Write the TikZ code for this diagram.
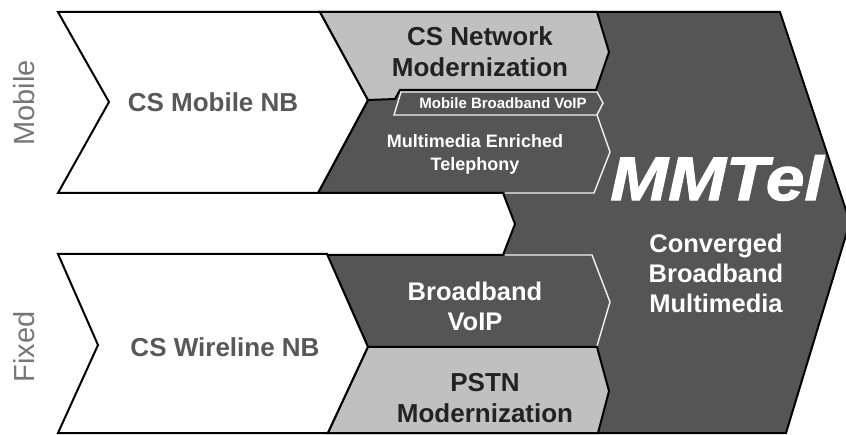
\documentclass[tikz,border=0pt]{standalone}
\usepackage{fontspec}
\setmainfont{Liberation Sans}
\newfontfamily\heavyfont[BoldItalicFeatures={FakeBold=1.6}]{Liberation Sans}
\definecolor{darkfill}{HTML}{555555}
\definecolor{lightfill}{HTML}{C0C0C0}
\definecolor{sidegray}{HTML}{767676}
\definecolor{headgray}{HTML}{585858}
\definecolor{inkgray}{HTML}{222222}
\tikzset{
  blackedge/.style={draw=black, line width=2pt, line join=miter},
  whiteedge/.style={draw=white!90!gray, line width=1.4pt, line join=miter},
  sidelabel/.style={font=\fontsize{29}{29}\selectfont, text=sidegray, rotate=90, inner sep=0pt},
  stagelabel/.style={font=\bfseries\fontsize{26}{26}\selectfont, text=headgray, inner sep=0pt},
  darktext/.style={font=\bfseries\fontsize{26}{31}\selectfont, text=inkgray, align=center, inner sep=0pt},
  lighttext/.style={font=\bfseries\fontsize{25.5}{30}\selectfont, text=white, align=center, inner sep=0pt},
}
\begin{document}
\begin{tikzpicture}[x=1pt, y=-1pt]
\useasboundingbox (0,0) rectangle (846,435);
\fill[white] (0,0) rectangle (846,435);
\begin{scope}
\clip (0,0) rectangle (846,435);
% converged target arrow, with the gap between the two tracks
\draw[blackedge, fill=darkfill]
  (320,12) -- (780,12) -- (850,222) -- (786,433) -- (328,433)
  -- (368,347) -- (327,255) -- (503,255) -- (515,224) -- (503,193)
  -- (318,193) -- (368,100) -- cycle;
% mobile track
\draw[blackedge, fill=white]
  (58,12) -- (320,12) -- (368,100) -- (318,193) -- (58,193) -- (109,102) -- cycle;
\draw[blackedge, fill=lightfill]
  (320,12) -- (597,12) -- (609,52) -- (596,90) -- (400,90) -- (395,99) -- (368,100) -- cycle;
\draw[whiteedge, fill=darkfill]
  (401,92) -- (597,92) -- (603,103) -- (597,115) -- (394,115) -- cycle;
\draw[whiteedge]
  (597,115) -- (610,152) -- (594,193) -- (505,193);
% fixed track
\draw[blackedge, fill=white]
  (58,254) -- (327,254) -- (368,347) -- (328,433) -- (58,433) -- (98,345) -- cycle;
\draw[whiteedge]
  (505,255) -- (592,255) -- (610,302) -- (597,346);
\draw[blackedge, fill=lightfill]
  (368,347) -- (597,347) -- (609,391) -- (598,433) -- (328,433) -- cycle;
\end{scope}
% labels
\node[sidelabel] (mobilelbl) at (24,103) {Mobile};
\node[sidelabel] (fixedlbl) at (24,347) {Fixed};
\node[stagelabel] (csmobile) at (213,102) {CS Mobile NB};
\node[stagelabel] (cswire) at (225,347) {CS Wireline NB};
\node[darktext] (csnet) at (480,52) {CS Network\\Modernization};
\node[font=\bfseries\fontsize{15}{15}\selectfont, text=white, inner sep=0pt] (mbvoip) at (503,103) {Mobile Broadband VoIP};
\node[font=\bfseries\fontsize{18}{23}\selectfont, text=white, align=center, inner sep=0pt] (mmet) at (475,154) {Multimedia Enriched\\Telephony};
\node[font=\heavyfont\bfseries\itshape\fontsize{62}{62}\selectfont, text=white, xscale=1.12, inner sep=0pt] (mmtel) at (717,178) {MMTel};
\node[lighttext] (conv) at (716,273) {Converged\\Broadband\\Multimedia};
\node[lighttext] (bbvoip) at (475,306) {Broadband\\VoIP};
\node[darktext] (pstn) at (485,398) {PSTN\\Modernization};
\end{tikzpicture}
\end{document}
